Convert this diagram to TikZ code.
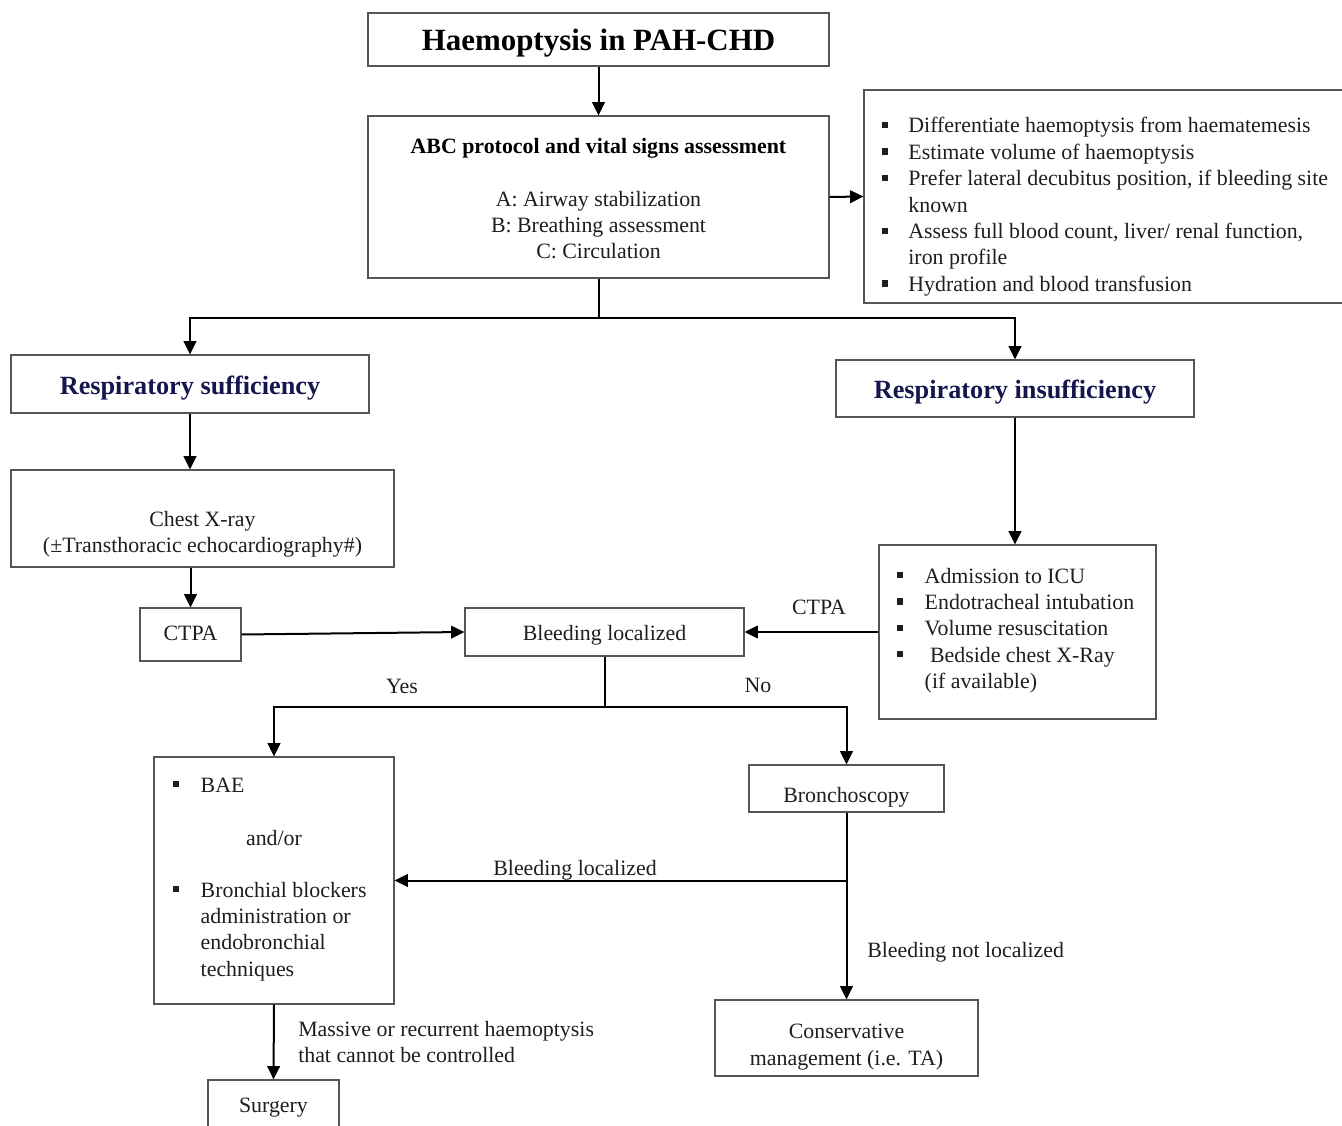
\documentclass[tikz,border=0pt]{standalone}
\usepackage{fontspec}
\setmainfont{Liberation Serif}
\usetikzlibrary{arrows.meta}
\definecolor{navy}{RGB}{22,22,78}
\definecolor{edge}{RGB}{85,85,85}
\definecolor{txt}{RGB}{30,30,30}
\newcommand\bul{\rule[0.22em]{0.28em}{0.28em}}
\newcommand\bodyfont{\fontsize{16.4}{19.8}\selectfont}
\begin{document}
\begin{tikzpicture}[x=0.75pt,y=-0.75pt,
  box/.style={draw=edge,line width=0.9pt,rectangle,inner sep=0pt},
  txtnode/.style={inner sep=0pt,text=txt,font=\bodyfont,align=center},
  arr/.style={line width=1.5pt,-{Triangle[length=10pt,width=9.5pt]}},
  plain/.style={line width=1.5pt}]
\useasboundingbox (0,0) rectangle (1342,1126);
\clip (0,0) rectangle (1342,1126);
% boxes
\node[box,minimum width=461*0.75pt,minimum height=53*0.75pt] (title) at (598.5,39.5) {};
\node[box,minimum width=461*0.75pt,minimum height=162*0.75pt] (abc) at (598.5,197) {};
\node[box,minimum width=481*0.75pt,minimum height=213*0.75pt] (diff) at (1104.5,196.5) {};
\node[box,minimum width=358*0.75pt,minimum height=58*0.75pt] (ressuf) at (190,384) {};
\node[box,minimum width=358*0.75pt,minimum height=57*0.75pt] (resins) at (1015,388.5) {};
\node[box,minimum width=383*0.75pt,minimum height=97*0.75pt] (cxr) at (202.5,518.5) {};
\node[box,minimum width=101*0.75pt,minimum height=53*0.75pt] (ctpa) at (190.5,634.5) {};
\node[box,minimum width=279*0.75pt,minimum height=48*0.75pt] (bleed) at (604.5,632) {};
\node[box,minimum width=277*0.75pt,minimum height=174*0.75pt] (icu) at (1017.5,632) {};
\node[box,minimum width=240*0.75pt,minimum height=247*0.75pt] (bae) at (274,880.5) {};
\node[box,minimum width=195*0.75pt,minimum height=47*0.75pt] (bronch) at (846.5,788.5) {};
\node[box,minimum width=263*0.75pt,minimum height=76*0.75pt] (cons) at (846.5,1038) {};
\node[box,minimum width=131*0.75pt,minimum height=60*0.75pt] (surg) at (273.5,1110) {};
% texts
\node[txtnode,font=\fontsize{23.2}{26}\selectfont\bfseries,text=black] (t-title) at (598.5,43) {Haemoptysis in PAH-CHD};
\node[txtnode,font=\fontsize{16.4}{19.8}\selectfont\bfseries,text=black] (t-abc) at (598.5,148) {ABC protocol and vital signs assessment};
\node[txtnode] (t-abcl) at (598.5,225) {A: Airway stabilization\\B: Breathing assessment\\C: Circulation};
\node[txtnode,anchor=base west] (t-diff) at (882,133) {\begin{tabular}[t]{@{}l@{\hspace{15pt}}l@{}}
\bul & Differentiate haemoptysis from haematemesis\\
\bul & Estimate volume of haemoptysis\\
\bul & Prefer lateral decubitus position, if bleeding site\\
 & known\\
\bul & Assess full blood count, liver/ renal function,\\
 & iron profile\\
\bul & Hydration and blood transfusion
\end{tabular}};
\node[txtnode,font=\fontsize{19.7}{22}\selectfont\bfseries,text=navy] (t-ressuf) at (190,388) {Respiratory sufficiency};
\node[txtnode,font=\fontsize{19.7}{22}\selectfont\bfseries,text=navy] (t-resins) at (1015,392) {Respiratory insufficiency};
\node[txtnode] (t-cxr) at (202.5,534) {Chest X-ray\\(±Transthoracic echocardiography\#)};
\node[txtnode] (t-ctpa) at (190.5,633) {CTPA};
\node[txtnode] (t-bleed) at (604.5,635) {Bleeding localized};
\node[txtnode,anchor=base west] (t-icu) at (897,583) {\begin{tabular}[t]{@{}l@{\hspace{16pt}}l@{}}
\bul & Admission to ICU\\
\bul & Endotracheal intubation\\
\bul & Volume resuscitation\\
\bul & \hspace{4pt}Bedside chest X-Ray\\
 & (if available)
\end{tabular}};
\node[txtnode] (t-ctpa2) at (819,607) {CTPA};
\node[txtnode] (t-yes) at (402,686) {Yes};
\node[txtnode] (t-no) at (758,685) {No};
\node[txtnode,anchor=base west] (t-bae1) at (173,792) {\begin{tabular}[t]{@{}l@{\hspace{16pt}}l@{}}
\bul & BAE
\end{tabular}};
\node[txtnode] (t-andor) at (274,838) {and/or};
\node[txtnode,anchor=base west] (t-bae2) at (173,897) {\begin{tabular}[t]{@{}l@{\hspace{16pt}}l@{}}
\bul & Bronchial blockers\\
 & administration or\\
 & endobronchial\\
 & techniques
\end{tabular}};
\node[txtnode] (t-bronch) at (846.5,797) {Bronchoscopy};
\node[txtnode] (t-bl) at (575,870) {Bleeding localized};
\node[txtnode,anchor=west] (t-bnl) at (867,952) {Bleeding not localized};
\node[txtnode] (t-cons) at (846.5,1047) {Conservative\\management (i.e. TA)};
\node[txtnode,anchor=west,align=left] (t-mass) at (298,1042) {Massive or recurrent haemoptysis\\that cannot be controlled};
\node[txtnode] (t-surg) at (273.5,1108) {Surgery};
% connectors
\draw[arr] (title) -- (abc);
\draw[arr] (abc.east) -- (diff.west);
\draw[plain] (abc.south) -- ++(0,39) coordinate (s1);
\draw[arr] (s1) -| (ressuf.north);
\draw[arr] (s1) -| (resins.north);
\draw[arr] (ressuf.south) -- (ressuf.south |- cxr.north);
\draw[arr] (ctpa.north |- cxr.south) -- (ctpa.north);
\draw[arr] (ctpa.east) -- (bleed.west);
\draw[arr] (resins.south) -- (resins.south |- icu.north);
\draw[arr] (icu.west) -- (bleed.east);
\draw[plain] (bleed.south) -- ++(0,50) coordinate (s2);
\draw[arr] (s2) -| (bae.north);
\draw[arr] (s2) -| (bronch.north);
\draw[arr] (bronch.south) -- (cons.north);
\draw[arr] (bronch.south |- bae.east) -- (bae.east);
\draw[arr] (bae.south) -- (surg.north);
\end{tikzpicture}
\end{document}
